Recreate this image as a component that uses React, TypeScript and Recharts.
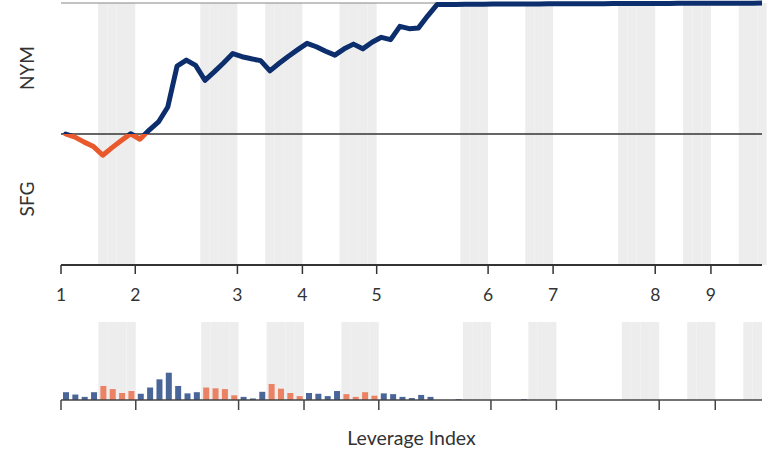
import React from "react";
import {
  ComposedChart,
  Line,
  Bar,
  Cell,
  XAxis,
  YAxis,
  ReferenceLine,
  ReferenceArea,
} from "recharts";

// ---- data ----
const innings = [1, 2, 3, 4, 5, 6, 7, 8, 9];
const inningFirstPlay = [0, 8, 19, 26, 34, 46, 53, 64, 70];
const bottomHalfFirstPlay = [4, 15, 22, 30, 43, 50, 60, 67, 73];
const bottomHalfLastPlay = [7, 18, 25, 33, 45, 52, 63, 69, 75];

// NYM win probability (%) after each play, 0..75
const winProbNYM = [
  50.0, 48.8, 46.9, 45.2, 41.9, 44.8, 47.5, 50.1, 48.0, 51.5,
  54.6, 60.3, 75.9, 78.2, 76.2, 70.5, 73.7, 77.1, 80.7, 79.5,
  78.7, 78.0, 74.1, 77.0, 79.7, 82.2, 84.6, 83.3, 81.6, 80.1,
  82.5, 84.3, 82.5, 85.0, 86.9, 86.0, 91.1, 90.2, 90.5, 95.1,
  99.4, 99.4, 99.4, 99.5, 99.5, 99.5, 99.6, 99.6, 99.6, 99.6,
  99.6, 99.6, 99.7, 99.7, 99.7, 99.7, 99.7, 99.7, 99.7, 99.8,
  99.8, 99.8, 99.8, 99.8, 99.8, 99.8, 99.9, 99.9, 99.9, 99.9,
  99.9, 99.9, 99.9, 99.9, 99.9, 100.0,
];

// leverage index of each play, 0..74
const leverageIndex = [
  1.0, 0.7, 0.4, 1.0, 1.8, 1.4, 0.9, 1.15, 0.8, 1.6,
  2.65, 3.5, 1.8, 0.85, 1.0, 1.6, 1.5, 1.4, 0.6, 0.4,
  0.2, 1.05, 2.05, 1.45, 0.9, 0.5, 0.9, 0.8, 0.5, 1.15,
  0.75, 0.4, 1.0, 0.55, 0.85, 0.75, 0.4, 0.25, 0.65, 0.4,
  0.0, 0.0, 0.1, 0.0, 0.0, 0.0, 0.0, 0.0, 0.0, 0.1,
  0.0, 0.0, 0.0, 0.0, 0.0, 0.0, 0.0, 0.0, 0.0, 0.0,
  0.0, 0.0, 0.0, 0.0, 0.0, 0.0, 0.0, 0.0, 0.0, 0.0,
  0.0, 0.0, 0.0, 0.0, 0.0,
];

// ---- styles ----
const FONT = "Lato, 'Open Sans', sans-serif";
const NAVY = "#0c2e6c";
const ORANGE = "#e9592b";
const BAR_BLUE = "#4a6698";
const BAR_ORANGE = "#ec8264";
const BAND = "#ededed";
const TEXT = "#333333";

const isBottomHalf = (p: number) =>
  bottomHalfFirstPlay.some((s, k) => p >= s && p <= bottomHalfLastPlay[k]);

const bandPlays: number[] = [];
bottomHalfFirstPlay.forEach((s, k) => {
  for (let p = s; p <= bottomHalfLastPlay[k]; p++) bandPlays.push(p);
});

const topData = winProbNYM.map((wp, i) => ({ play: i, wp }));
const bottomData = leverageIndex.map((li, i) => ({ play: i, li }));

const tickValues = inningFirstPlay.map((p) => p - 0.5);
const tickLabel = (v: number) => {
  const k = inningFirstPlay.indexOf(v + 0.5);
  return k >= 0 ? String(innings[k]) : "";
};

const TOP_H = 310;
const PLOT_TOP = 3;
const X_AXIS_H = 45;
const PLOT_BOTTOM = TOP_H - X_AXIS_H;

export default function App() {
  return (
    <div
      style={{
        position: "absolute",
        left: 0,
        top: 0,
        width: 777,
        height: 466,
        background: "#fff",
        fontFamily: FONT,
      }}
    >
      <div style={{ position: "absolute", left: 0, top: 0 }}>
        <ComposedChart
          width={777}
          height={TOP_H}
          data={topData}
          margin={{ top: PLOT_TOP, right: 15, left: 61, bottom: 0 }}
        >
          <defs>
            <linearGradient
              id="wpGrad"
              gradientUnits="userSpaceOnUse"
              x1="0"
              y1={PLOT_TOP}
              x2="0"
              y2={PLOT_BOTTOM}
            >
              <stop offset="0%" stopColor={NAVY} />
              <stop offset="50%" stopColor={NAVY} />
              <stop offset="50%" stopColor={ORANGE} />
              <stop offset="100%" stopColor={ORANGE} />
            </linearGradient>
          </defs>
          {bandPlays.map((p) => (
            <ReferenceArea
              key={"tb" + p}
              x1={p - 0.5}
              x2={p + 0.5}
              y1={0}
              y2={100}
              fill={BAND}
              fillOpacity={1}
              stroke="none"
              ifOverflow="visible"
            />
          ))}
          <XAxis
            dataKey="play"
            type="number"
            domain={[-0.5, 75]}
            ticks={tickValues}
            interval={0}
            tickFormatter={tickLabel}
            height={X_AXIS_H}
            axisLine={{ stroke: TEXT, strokeWidth: 2 }}
            tickLine={{ stroke: TEXT, strokeWidth: 1.5 }}
            tickSize={9}
            tickMargin={15}
            tick={{ fill: TEXT, fontSize: 17.5, fontFamily: FONT }}
            allowDataOverflow
          />
          <YAxis
            type="number"
            domain={[0, 100]}
            width={0}
            tick={false}
            tickLine={false}
            axisLine={{ stroke: TEXT, strokeWidth: 1.5 }}
          />
          <ReferenceLine y={100} stroke="#888" strokeWidth={1.2} />
          <ReferenceLine y={50} stroke={TEXT} strokeWidth={1.5} />
          <Line
            type="linear"
            dataKey="wp"
            stroke="url(#wpGrad)"
            strokeWidth={5}
            strokeLinejoin="round"
            strokeLinecap="round"
            dot={false}
            activeDot={false}
            isAnimationActive={false}
          />
        </ComposedChart>
      </div>

      <div style={{ position: "absolute", left: 0, top: TOP_H }}>
        <ComposedChart
          width={777}
          height={156}
          data={bottomData}
          margin={{ top: 12, right: 15, left: 61, bottom: 0 }}
        >
          {bandPlays.map((p) => (
            <ReferenceArea
              key={"bb" + p}
              x1={p - 0.5}
              x2={Math.min(p + 0.5, 74.5)}
              y1={0}
              y2={10}
              fill={BAND}
              fillOpacity={1}
              stroke="none"
              ifOverflow="hidden"
            />
          ))}
          <XAxis
            dataKey="play"
            type="number"
            domain={[-0.5, 74.5]}
            ticks={tickValues}
            interval={0}
            height={66}
            axisLine={{ stroke: "#444", strokeWidth: 1.5 }}
            tickLine={{ stroke: "#444", strokeWidth: 1.5 }}
            tickSize={10}
            tick={() => <g />}
            label={{
              value: "Leverage Index",
              position: "insideBottom",
              offset: 21,
              fill: TEXT,
              fontSize: 19.5,
              fontFamily: FONT,
            }}
          />
          <YAxis type="number" domain={[0, 10]} hide />
          <Bar dataKey="li" barSize={6} isAnimationActive={false}>
            {bottomData.map((d) => (
              <Cell
                key={"c" + d.play}
                fill={isBottomHalf(d.play) ? BAR_ORANGE : BAR_BLUE}
              />
            ))}
          </Bar>
        </ComposedChart>
      </div>

      <svg
        width={60}
        height={270}
        style={{ position: "absolute", left: 0, top: 0 }}
      >
        <text
          x={26}
          y={68}
          transform="rotate(-90 26 68)"
          textAnchor="middle"
          dominantBaseline="central"
          fontSize={19}
          fontFamily={FONT}
          fill={TEXT}
        >
          NYM
        </text>
        <text
          x={26}
          y={199}
          transform="rotate(-90 26 199)"
          textAnchor="middle"
          dominantBaseline="central"
          fontSize={19}
          fontFamily={FONT}
          fill={TEXT}
        >
          SFG
        </text>
      </svg>
    </div>
  );
}
